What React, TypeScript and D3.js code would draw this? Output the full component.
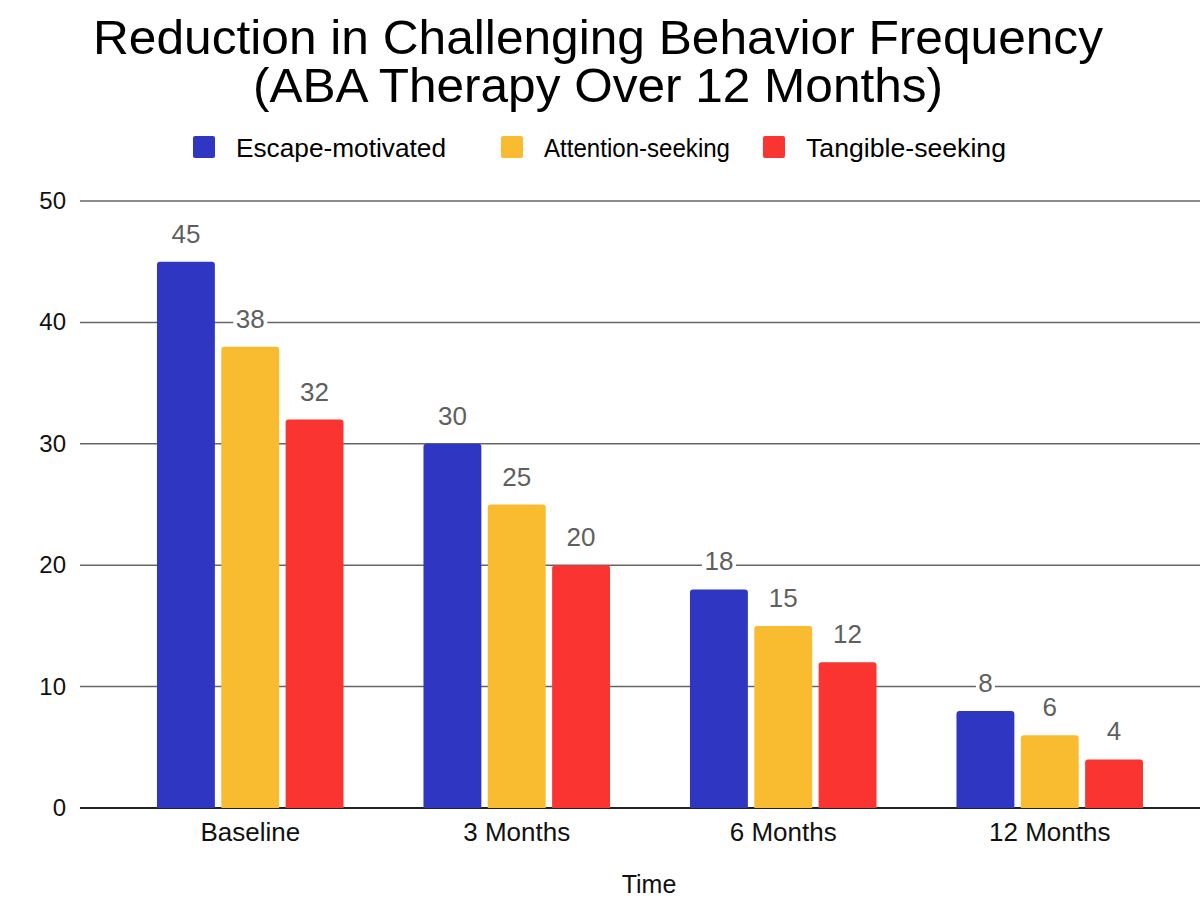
import React, { useEffect, useRef } from 'react';
import * as d3 from 'd3';

const periods = ['Baseline', '3 Months', '6 Months', '12 Months'];
const seriesNames = ['Escape-motivated', 'Attention-seeking', 'Tangible-seeking'];
const escapeValues = [45, 30, 18, 8];
const attentionValues = [38, 25, 15, 6];
const tangibleValues = [32, 20, 12, 4];
const yTicks = [0, 10, 20, 30, 40, 50];
const colors = ['#2f36c2', '#f9bb2f', '#fa3431'];

export default () => {
  const svgRef = useRef<SVGSVGElement>(null);

  function draw(elm: SVGSVGElement) {
    const width = 1200;
    const height = 900;
    const font = 'Liberation Sans, Arial, sans-serif';
    const svg = d3.select(elm);
    svg.selectAll('*').remove();
    svg.attr('width', width).attr('height', height)
      .style('position', 'absolute').style('left', 0).style('top', 0)
      .style('background', '#fff');

    const values = [escapeValues, attentionValues, tangibleValues];

    const y = d3.scaleLinear().domain([0, 50]).range([808, 201]);
    const x0 = d3.scaleBand().domain(periods).range([117, 1183]).paddingInner(0.3).paddingOuter(0.15);
    const x1 = d3.scaleBand().domain(seriesNames).range([0, x0.bandwidth()]).paddingInner(0.1);

    // title
    svg.append('text')
      .attr('x', 598).attr('y', 54)
      .attr('text-anchor', 'middle')
      .attr('font-family', font).attr('font-size', 48)
      .attr('textLength', 1010).attr('lengthAdjust', 'spacingAndGlyphs')
      .text('Reduction in Challenging Behavior Frequency');
    svg.append('text')
      .attr('x', 598).attr('y', 102)
      .attr('text-anchor', 'middle')
      .attr('font-family', font).attr('font-size', 48)
      .attr('textLength', 690).attr('lengthAdjust', 'spacingAndGlyphs')
      .text('(ABA Therapy Over 12 Months)');

    // legend
    const legendX = [193, 501, 763];
    const legendW = [210, 186, 200];
    const lg = svg.append('g');
    seriesNames.forEach((name, i) => {
      lg.append('rect')
        .attr('x', legendX[i]).attr('y', 136).attr('width', 22).attr('height', 22)
        .attr('rx', 2).attr('fill', colors[i]);
      lg.append('text')
        .attr('x', legendX[i] + 43).attr('y', 157)
        .attr('font-family', font).attr('font-size', 26)
        .attr('textLength', legendW[i]).attr('lengthAdjust', 'spacingAndGlyphs')
        .text(name);
    });

    // grid
    const grid = svg.append('g');
    yTicks.forEach(t => {
      grid.append('line')
        .attr('x1', 80).attr('x2', 1200)
        .attr('y1', y(t)).attr('y2', y(t))
        .attr('stroke', t === 0 ? '#222' : '#666')
        .attr('stroke-width', t === 0 ? 2 : 1.5);
      grid.append('text')
        .attr('x', 66).attr('y', y(t) + 8)
        .attr('text-anchor', 'end')
        .attr('font-family', font).attr('font-size', 24)
        .attr('fill', '#111')
        .text(t);
    });

    // bars
    const groups = svg.append('g').selectAll('g')
      .data(periods)
      .enter()
      .append('g')
      .attr('transform', d => 'translate(' + x0(d) + ',0)');

    seriesNames.forEach((name, si) => {
      groups.append('path')
        .attr('d', (_d, pi) => {
          const bx = x1(name)!;
          const bw = x1.bandwidth();
          const top = y(values[si][pi]);
          const bottom = y(0);
          const r = 3;
          return `M${bx},${bottom}V${top + r}Q${bx},${top} ${bx + r},${top}H${bx + bw - r}Q${bx + bw},${top} ${bx + bw},${top + r}V${bottom}Z`;
        })
        .attr('fill', colors[si]);
    });

    // value labels
    seriesNames.forEach((name, si) => {
      groups.each(function (_d, pi) {
        const g = d3.select(this);
        const cx = x1(name)! + x1.bandwidth() / 2;
        const ty = y(values[si][pi]) - 28;
        const lbl = String(values[si][pi]);
        const w = lbl.length * 15 + 4;
        g.append('rect')
          .attr('x', cx - w / 2).attr('y', ty - 12)
          .attr('width', w).attr('height', 24)
          .attr('fill', '#fff');
        g.append('text')
          .attr('x', cx).attr('y', ty + 9)
          .attr('text-anchor', 'middle')
          .attr('font-family', font).attr('font-size', 26)
          .attr('fill', '#5f5f5f')
          .text(lbl);
      });
    });

    // x labels
    periods.forEach(p => {
      svg.append('text')
        .attr('x', x0(p)! + x0.bandwidth() / 2).attr('y', 841)
        .attr('text-anchor', 'middle')
        .attr('font-family', font).attr('font-size', 26)
        .attr('fill', '#111')
        .text(p);
    });

    svg.append('text')
      .attr('x', 649).attr('y', 893)
      .attr('text-anchor', 'middle')
      .attr('font-family', font).attr('font-size', 25)
      .attr('fill', '#111')
      .text('Time');
  }

  useEffect(() => {
    if (svgRef.current) {
      draw(svgRef.current);
    }
  }, []);

  return <svg ref={svgRef}></svg>;
};
